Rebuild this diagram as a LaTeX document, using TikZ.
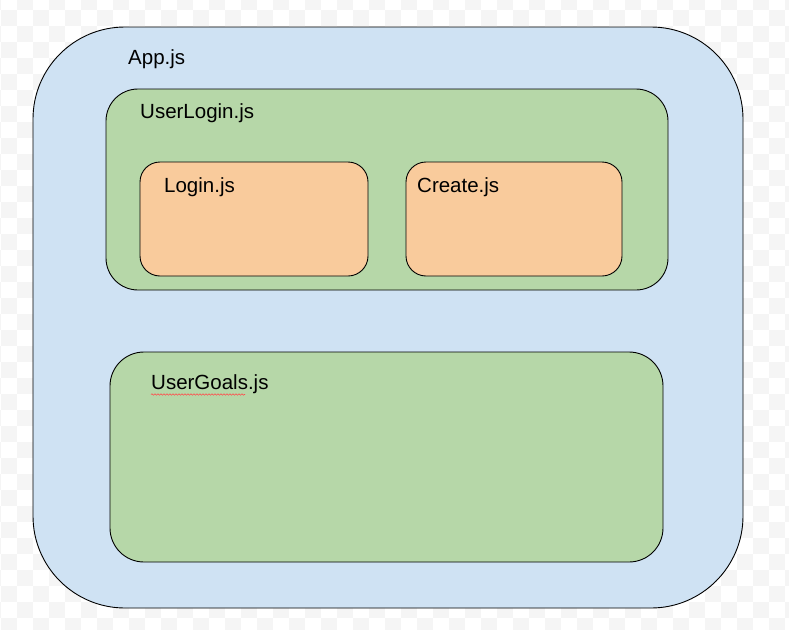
\documentclass[tikz,border=0pt]{standalone}
\usepackage{fontspec}
\setmainfont{Liberation Sans}
\usetikzlibrary{decorations.pathmorphing}
\definecolor{appblue}{HTML}{CFE2F3}
\definecolor{loggreen}{HTML}{B6D7A8}
\definecolor{peach}{HTML}{F9CB9C}
\definecolor{checkgrey}{RGB}{245,245,245}
\tikzset{
  box/.style={draw=black, line width=0.9pt, inner sep=0pt, anchor=center},
  lbl/.style={anchor=base west, inner sep=0pt, font=\fontsize{20.5}{24}\selectfont, text=black},
}
\begin{document}
\begin{tikzpicture}[x=1pt,y=-1pt]
\useasboundingbox (0,0) rectangle (789,629);
\fill[white] (0,0) rectangle (789,629);
\begin{scope}
\clip (0,0) rectangle (789,629);
\foreach \c in {0,2,...,50}{
  \foreach \r in {0,2,...,40}{
    \fill[checkgrey] ({1+16*\c},{10+16*\r}) rectangle ++(16,16);
    \fill[checkgrey] ({1+16*(\c-1)},{10+16*(\r-1)}) rectangle ++(16,16);
  }
}
\end{scope}
% boxes
\node[box, fill=appblue, minimum width=710pt, minimum height=581pt, rounded corners=92pt] (app) at (388,317.5) {};
\node[box, fill=loggreen, minimum width=562pt, minimum height=201pt, rounded corners=32pt] (userlogin) at (387,189.5) {};
\node[box, fill=peach, minimum width=228pt, minimum height=114pt, rounded corners=20pt] (login) at (254,219) {};
\node[box, fill=peach, minimum width=216pt, minimum height=114pt, rounded corners=20pt] (create) at (514,219) {};
\node[box, fill=loggreen, minimum width=553pt, minimum height=210pt, rounded corners=34pt] (usergoals) at (386.5,457) {};
% labels
\node[lbl] (applbl) at (128,64) {App.js};
\node[lbl] (userloginlbl) at (140,118) {UserLogin.js};
\node[lbl] (loginlbl) at (164,192) {Login.js};
\node[lbl] (createlbl) at (417,192) {Create.js};
\node[lbl] (usergoalslbl) at (151,389) {UserGoals.js};
\coordinate (wavyA) at (151,394.5);
\coordinate (wavyB) at (245,394.5);
\draw[red!70, line width=0.6pt, decorate, decoration={snake, amplitude=0.7pt, segment length=3pt}] (wavyA) -- (wavyB);
\end{tikzpicture}
\end{document}
